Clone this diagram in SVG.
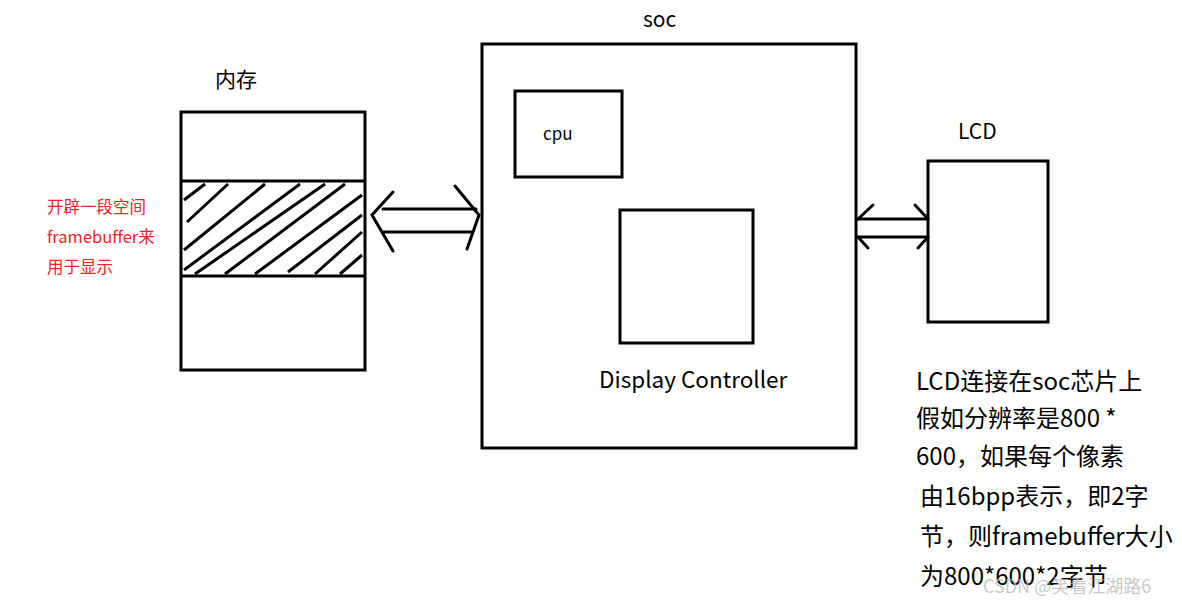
<svg xmlns="http://www.w3.org/2000/svg" width="1182" height="606" viewBox="0 0 1182 606">
<style>
.b{fill:none;stroke:#000;stroke-width:3}
.t{font-family:"Noto Sans CJK SC","Noto Sans",sans-serif;fill:#000}
.h{stroke:#000;stroke-width:3}
</style>
<rect width="1182" height="606" fill="#fff"/>
<g id="memory">
<rect class="b" x="181" y="112" width="184" height="258"/>
<line class="b" x1="181" y1="181" x2="365" y2="181"/>
<line class="b" x1="181" y1="276" x2="365" y2="276"/>
<g class="h">
<line x1="184" y1="200" x2="205" y2="184"/>
<line x1="187" y1="222" x2="228" y2="184"/>
<line x1="184" y1="250" x2="265" y2="184"/>
<line x1="184" y1="270" x2="300" y2="184"/>
<line x1="195" y1="274" x2="325" y2="184"/>
<line x1="225" y1="274" x2="345" y2="184"/>
<line x1="255" y1="274" x2="362" y2="195"/>
<line x1="288" y1="272" x2="362" y2="215"/>
<line x1="315" y1="274" x2="362" y2="232"/>
<line x1="340" y1="274" x2="362" y2="255"/>
</g>
<text class="t" x="215" y="87" font-size="21">内存</text>
<text class="t" x="47" y="213" font-size="16.5" style="fill:#e8262a">开辟一段空间</text>
<text class="t" x="47" y="243" font-size="16.5" style="fill:#e8262a">framebuffer来</text>
<text class="t" x="47" y="273" font-size="16.5" style="fill:#e8262a">用于显示</text>
</g>
<g id="soc">
<rect class="b" x="482" y="44" width="374" height="404"/>
<text class="t" x="643" y="27" font-size="21">soc</text>
</g>
<g id="cpu">
<rect class="b" x="515" y="91" width="107" height="86"/>
<text class="t" x="543" y="140" font-size="17">cpu</text>
</g>
<g id="dc">
<rect class="b" x="620" y="210" width="133" height="133"/>
<text class="t" x="599" y="388" font-size="22.5">Display Controller</text>
</g>
<g id="lcd">
<rect class="b" x="928" y="161" width="120" height="161"/>
<text class="t" x="958" y="139" font-size="21">LCD</text>
</g>
<g id="connectors" class="b" stroke-linecap="round">
<line x1="383" y1="209" x2="476" y2="209"/>
<line x1="383" y1="232" x2="472" y2="232"/>
<polyline points="393,192 372,215 393,251"/>
<polyline points="455,186 479,215 467,249"/>
<line x1="858" y1="219" x2="926" y2="219"/>
<line x1="858" y1="237" x2="926" y2="237"/>
<polyline points="873,205 858,219"/>
<polyline points="858,237 868,248"/>
<polyline points="915,205 928,219"/>
<polyline points="928,237 918,248"/>
</g>
<g id="note" class="t" font-size="24">
<text x="916" y="390">LCD连接在soc芯片上</text>
<text x="916" y="427">假如分辨率是800 *</text>
<text x="916" y="465">600，如果每个像素</text>
<text x="920" y="505">由16bpp表示，即2字</text>
<text x="920" y="545">节，则framebuffer大小</text>
<text x="920" y="585">为800*600*2字节</text>
</g>
<text x="983" y="593" font-family="Noto Sans CJK SC,sans-serif" font-size="18" fill="#bbb" fill-opacity="0.8">CSDN @笑看江湖路6</text>
</svg>
